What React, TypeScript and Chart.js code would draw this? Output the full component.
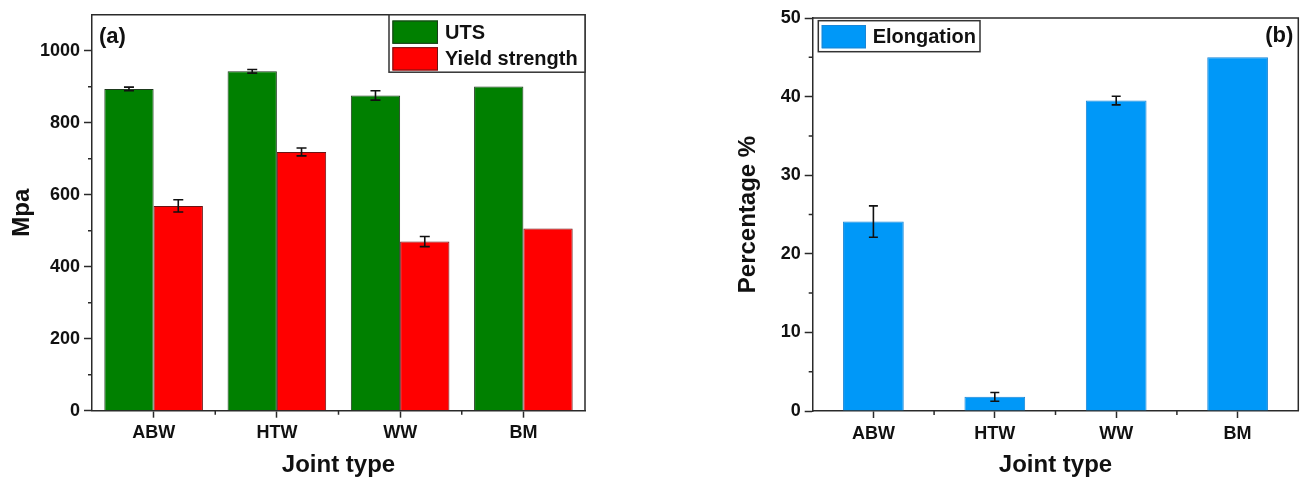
import React, { useEffect, useRef } from 'react';
import { Chart, registerables } from 'chart.js';

Chart.register(...registerables);

// ---------- data ----------
const categories = ['ABW', 'HTW', 'WW', 'BM'];
const utsValues = [894, 943, 876, 901];
const utsErrors = [5, 5, 13, 0];
const yieldValues = [569, 719, 470, 506];
const yieldErrors = [17, 11, 14, 0];
const elongationValues = [24.1, 1.8, 39.5, 45];
const elongationErrors = [2, 0.55, 0.55, 0];
const leftYTicks = [0, 200, 400, 600, 800, 1000];
const rightYTicks = [0, 10, 20, 30, 40, 50];

const FONT = "'Liberation Sans', Arial, Helvetica, sans-serif";
const AX = '#2a2a2a';
const TXT = '#111';

const overlayPlugin = {
  id: 'overlay',
  afterDatasetsDraw(chart: any, _a: any, opts: any) {
    const { ctx, scales } = chart;
    const ys = scales.y;
    ctx.save();
    ctx.strokeStyle = '#111';
    ctx.lineWidth = 1.6;
    (opts.errors || []).forEach((errs: number[], di: number) => {
      const meta = chart.getDatasetMeta(di);
      const vals = chart.data.datasets[di].data;
      meta.data.forEach((el: any, j: number) => {
        const e = errs[j];
        if (!e) return;
        const v = vals[j];
        const yt = ys.getPixelForValue(v + e);
        const yb = ys.getPixelForValue(v - e);
        const x = el.x;
        const cw = opts.capHalf;
        ctx.beginPath();
        ctx.moveTo(x, yt); ctx.lineTo(x, yb);
        ctx.moveTo(x - cw, yt); ctx.lineTo(x + cw, yt);
        ctx.moveTo(x - cw, yb); ctx.lineTo(x + cw, yb);
        ctx.stroke();
      });
    });
    ctx.restore();
  },
  afterDraw(chart: any, _a: any, opts: any) {
    const { ctx, chartArea: ca, scales } = chart;
    const xs = scales.x, ys = scales.y;
    ctx.save();
    // frame top/right
    ctx.strokeStyle = AX;
    ctx.lineWidth = 1.5;
    ctx.beginPath();
    ctx.moveTo(ca.left, ca.top); ctx.lineTo(ca.right, ca.top); ctx.lineTo(ca.right, ca.bottom);
    ctx.stroke();
    // minor ticks y
    const majors: number[] = opts.majors;
    ctx.beginPath();
    for (let i = 0; i < majors.length - 1; i++) {
      const py = ys.getPixelForValue((majors[i] + majors[i + 1]) / 2);
      ctx.moveTo(ca.left - 4, py); ctx.lineTo(ca.left, py);
    }
    // minor ticks x
    const n = chart.data.labels.length;
    for (let i = 0; i < n - 1; i++) {
      const px = (xs.getPixelForValue(i) + xs.getPixelForValue(i + 1)) / 2;
      ctx.moveTo(px, ca.bottom); ctx.lineTo(px, ca.bottom + 4);
    }
    ctx.stroke();
    // legend
    const lg = opts.legend;
    const bx = lg.side === 'right' ? ca.right - lg.w : ca.left + lg.dx;
    const by = ca.top + lg.dy;
    ctx.fillStyle = '#fff';
    ctx.fillRect(bx, by, lg.w, lg.h);
    ctx.strokeStyle = '#333';
    ctx.lineWidth = 1.5;
    ctx.strokeRect(bx, by, lg.w, lg.h);
    chart.data.datasets.forEach((ds: any, i: number) => {
      const sx = bx + lg.pad;
      const sy = by + lg.padTop + i * lg.rowH;
      ctx.fillStyle = ds.backgroundColor;
      ctx.fillRect(sx, sy, lg.sw, lg.sh);
      ctx.strokeStyle = ds.borderColor;
      ctx.lineWidth = 1;
      ctx.strokeRect(sx + 0.5, sy + 0.5, lg.sw - 1, lg.sh - 1);
      ctx.fillStyle = TXT;
      ctx.font = `bold 20px ${FONT}`;
      ctx.textBaseline = 'middle';
      ctx.textAlign = 'left';
      ctx.fillText(ds.label, bx + lg.textX, sy + lg.sh / 2 + 1);
    });
    // panel label
    const pl = opts.panel;
    ctx.fillStyle = TXT;
    ctx.font = `bold 22px ${FONT}`;
    ctx.textBaseline = 'middle';
    if (pl.side === 'left') {
      ctx.textAlign = 'left';
      ctx.fillText(pl.text, ca.left + 7, ca.top + 22);
    } else {
      ctx.textAlign = 'right';
      ctx.fillText(pl.text, ca.right - 5, ca.top + 18);
    }
    ctx.restore();
  },
};

function axisX(height: number) {
  return {
    type: 'category',
    offset: true,
    afterFit: (s: any) => { s.height = height; },
    grid: { offset: false, drawOnChartArea: false, tickLength: 7, tickColor: AX, tickWidth: 1.5 },
    border: { color: AX, width: 1.5 },
    ticks: { color: TXT, font: { size: 18, weight: 'bold', family: FONT }, padding: 5, maxRotation: 0 },
    title: { display: true, text: 'Joint type', color: TXT, font: { size: 24, weight: 'bold', family: FONT }, padding: { top: 0, bottom: 0 } },
  };
}

function axisY(max: number, ticksArr: number[], width: number, title: string, titlePad: number) {
  return {
    min: 0,
    max,
    afterBuildTicks: (s: any) => { s.ticks = ticksArr.map((v) => ({ value: v })); },
    afterFit: (s: any) => { s.width = width; },
    grid: { drawOnChartArea: false, tickLength: 8, tickColor: AX, tickWidth: 1.5 },
    border: { color: AX, width: 1.5 },
    ticks: {
      color: TXT,
      font: { size: 18, weight: 'bold', family: FONT },
      padding: 4,
      callback: (v: any) => String(v),
    },
    title: { display: true, text: title, color: TXT, font: { size: 24, weight: 'bold', family: FONT }, padding: { top: titlePad, bottom: 0 } },
  };
}

function leftConfig(): any {
  return {
    type: 'bar',
    data: {
      labels: categories,
      datasets: [
        { label: 'UTS', data: utsValues, backgroundColor: '#008000', borderColor: '#1d3a1d', borderWidth: 1, categoryPercentage: 0.8, barPercentage: 1 },
        { label: 'Yield strength', data: yieldValues, backgroundColor: '#ff0000', borderColor: '#6a1414', borderWidth: 1, categoryPercentage: 0.8, barPercentage: 1 },
      ],
    },
    plugins: [overlayPlugin],
    options: {
      responsive: false,
      animation: false,
      events: [],
      layout: { padding: { left: 0, right: 15, top: 13.3, bottom: 0 } },
      scales: { x: axisX(69.3), y: axisY(1100, leftYTicks, 92, 'Mpa', 8) },
      plugins: {
        legend: { display: false },
        tooltip: { enabled: false },
        overlay: {
          errors: [utsErrors, yieldErrors],
          capHalf: 5,
          majors: leftYTicks,
          legend: { side: 'right', dx: 0, dy: 0, w: 196, h: 57.4, pad: 3.4, padTop: 5.7, rowH: 26.7, sw: 45.6, sh: 23.3, textX: 56 },
          panel: { side: 'left', text: '(a)' },
        },
      },
    },
  };
}

function rightConfig(): any {
  return {
    type: 'bar',
    data: {
      labels: categories,
      datasets: [
        { label: 'Elongation', data: elongationValues, backgroundColor: '#0098f8', borderColor: '#1a86d6', borderWidth: 1, categoryPercentage: 0.5, barPercentage: 1 },
      ],
    },
    plugins: [overlayPlugin],
    options: {
      responsive: false,
      animation: false,
      events: [],
      layout: { padding: { left: 0, right: 2.7, top: 18, bottom: 0 } },
      scales: { x: axisX(69), y: axisY(50, rightYTicks, 88.7, 'Percentage %', 9.6) },
      plugins: {
        legend: { display: false },
        tooltip: { enabled: false },
        overlay: {
          errors: [elongationErrors],
          capHalf: 4.5,
          majors: rightYTicks,
          legend: { side: 'left', dx: 5.6, dy: 2.7, w: 161.7, h: 31, pad: 3.4, padTop: 4.3, rowH: 26.7, sw: 44.3, sh: 23.3, textX: 54.4 },
          panel: { side: 'right', text: '(b)' },
        },
      },
    },
  };
}

function Panel({ make, left, width }: { make: () => any; left: number; width: number }) {
  const ref = useRef<HTMLCanvasElement>(null);
  useEffect(() => {
    const chart = new Chart(ref.current as HTMLCanvasElement, make());
    return () => chart.destroy();
  }, []);
  return (
    <canvas
      ref={ref}
      width={width}
      height={480}
      style={{ position: 'absolute', left, top: 0, width, height: 480 }}
    />
  );
}

export default function App() {
  return (
    <div style={{ position: 'absolute', left: 0, top: 0, width: 1301, height: 480, background: '#fff', overflow: 'hidden' }}>
      <Panel make={leftConfig} left={0} width={600} />
      <Panel make={rightConfig} left={724} width={577} />
    </div>
  );
}
